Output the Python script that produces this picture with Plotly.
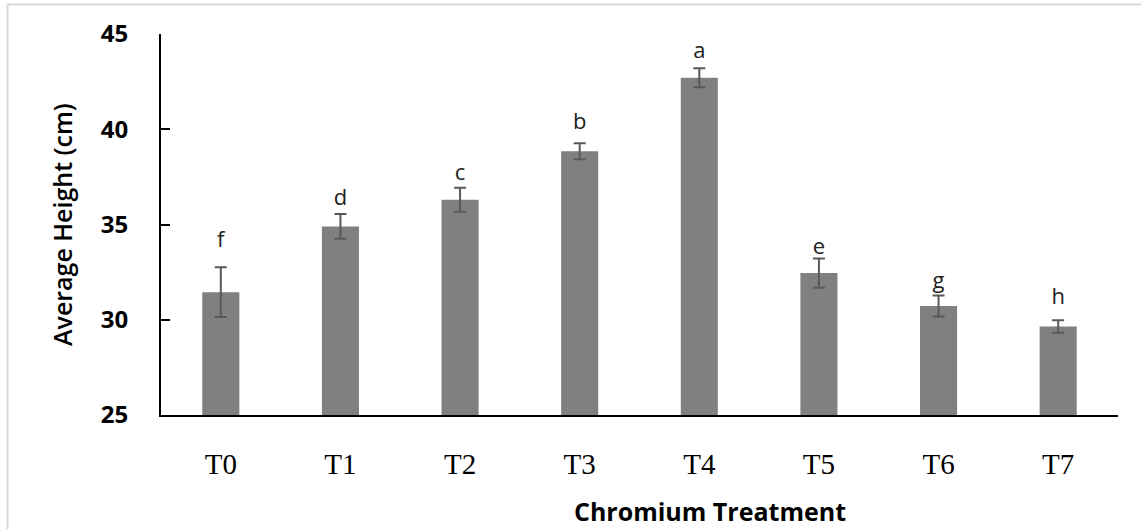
import plotly.graph_objects as go

treatments = ["T0", "T1", "T2", "T3", "T4", "T5", "T6", "T7"]
avg_height = [31.45, 34.9, 36.3, 38.85, 42.7, 32.45, 30.72, 29.65]
std_err = [1.3, 0.65, 0.63, 0.42, 0.5, 0.77, 0.55, 0.33]
letters = ["f", "d", "c", "b", "a", "e", "g", "h"]
letter_y = [34.1, 36.3, 37.65, 40.3, 44.05, 33.75, 31.95, 31.1]

W, H = 1141, 529
L, R, T, B = 161, 23, 34, 114
pw, ph = W - L - R, H - T - B

def px(x):
    return (x - L) / pw

def py(y):
    return (H - B - y) / ph

fig = go.Figure()
fig.add_trace(go.Bar(
    x=treatments, y=avg_height, width=0.31,
    marker=dict(color="#808080", line=dict(width=0)),
    error_y=dict(type="data", array=std_err, visible=True,
                 color="#595959", thickness=2, width=6),
    showlegend=False, hoverinfo="skip",
))
fig.add_trace(go.Scatter(
    x=treatments, y=letter_y, mode="text", text=letters,
    textfont=dict(family="Open Sans", size=22, color="#222222"),
    showlegend=False, hoverinfo="skip",
))

fig.update_layout(
    width=W, height=H,
    margin=dict(l=L, r=R, t=T, b=B),
    paper_bgcolor="white", plot_bgcolor="white",
    xaxis=dict(
        type="category", range=[-0.5, 7.5],
        showline=True, linecolor="black", linewidth=2,
        ticks="", showgrid=False, zeroline=False,
        tickfont=dict(family="Liberation Serif", size=29, color="black"),
        ticklabelstandoff=22,
    ),
    yaxis=dict(
        range=[25, 45], tickvals=[25, 30, 35, 40, 45],
        showline=True, linecolor="black", linewidth=2,
        ticks="inside", ticklen=9, tickwidth=2, tickcolor="black",
        showgrid=False, zeroline=False,
        tickfont=dict(family="Open Sans", size=24, color="black", weight="bold"),
        ticklabelstandoff=26,
    ),
    annotations=[
        dict(text="Average Height (cm)", x=px(62), y=py(225), xref="paper", yref="paper",
             xanchor="center", yanchor="middle", textangle=-90, showarrow=False,
             font=dict(family="Open Sans", size=25, color="black", weight=600)),
        dict(text="<b>Chromium Treatment</b>", x=px(710), y=py(511), xref="paper", yref="paper",
             xanchor="center", yanchor="middle", showarrow=False,
             font=dict(family="Open Sans", size=25, color="black")),
    ],
    shapes=[
        dict(type="line", xref="paper", yref="paper", x0=px(7.5), x1=px(1145), y0=py(4.5), y1=py(4.5),
             line=dict(color="#d9d9d9", width=2)),
        dict(type="line", xref="paper", yref="paper", x0=px(7.5), x1=px(7.5), y0=py(4.5), y1=py(535),
             line=dict(color="#d9d9d9", width=2)),
    ],
)

fig.write_html("out.html")
